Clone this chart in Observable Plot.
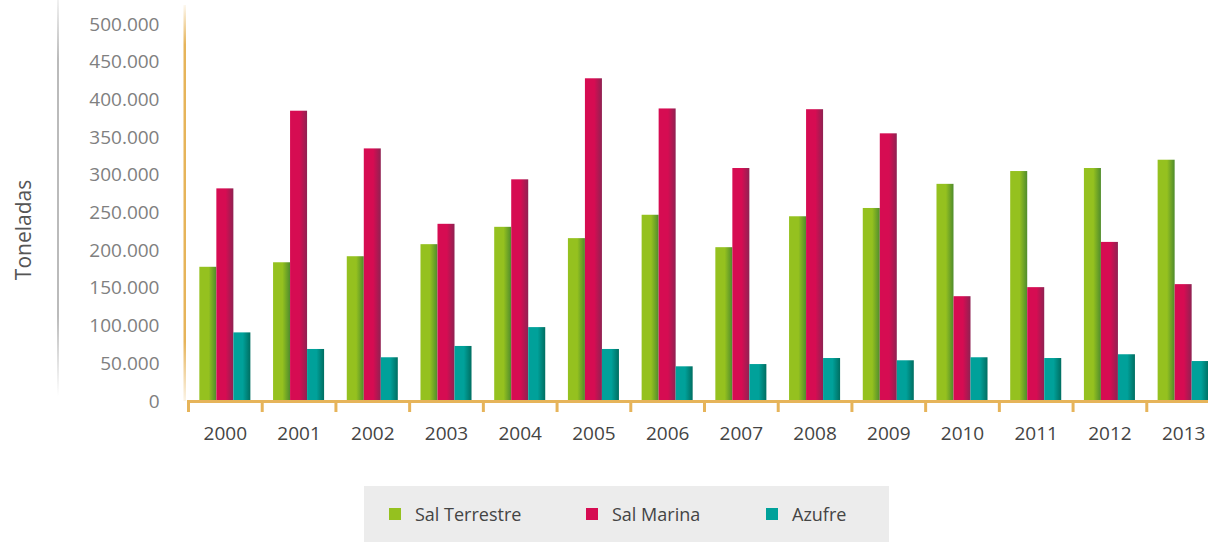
<!DOCTYPE html>
<html>
<head>
<meta charset="utf-8">
<script src="https://cdn.jsdelivr.net/npm/d3@7"></script>
<script src="https://cdn.jsdelivr.net/npm/@observablehq/plot@0.6"></script>
<style>
  html, body { margin: 0; padding: 0; background: #fff; overflow: hidden; }
  #chart { position: relative; width: 1208px; height: 542px; font-family: 'Open Sans', sans-serif; }
  #chart svg { max-width: none !important; }
  #chart svg [aria-label="y-axis tick label"] { fill: #808080; }
  #chart svg [aria-label="fx-axis tick label"] { fill: #444; }
  .legend { position: absolute; left: 364px; top: 486px; width: 525px; height: 60px; background: #ececec; }
  .item { position: absolute; top: 17px; height: 22px; display: flex; align-items: center; font-size: 18px; color: #444; }
  .sw { width: 12px; height: 12px; margin-right: 14px; }
</style>
</head>
<body>
<div id="chart"></div>
<script>
const years = ["2000","2001","2002","2003","2004","2005","2006","2007","2008","2009","2010","2011","2012","2013"];
const seriesNames = ["Sal Terrestre", "Sal Marina", "Azufre"];
const salTerrestre = [178000,184000,192000,208000,231000,216000,247000,204000,245000,256000,288000,305000,309000,320000];
const salMarina   = [282000,385000,335000,235000,294000,428000,388000,309000,387000,355000,139000,151000,211000,155000];
const azufre      = [91000,69000,58000,73000,98000,69000,46000,49000,57000,54000,58000,57000,62000,53000];
const yTicks = [0,50000,100000,150000,200000,250000,300000,350000,400000,450000,500000];
const seriesColors = ["#95c11f", "#d60c52", "#00a19a"];
const seriesDark = ["#4f8c2c", "#8f2252", "#006e61"];

const values = [salTerrestre, salMarina, azufre];
const data = years.flatMap((yr, i) => seriesNames.map((s, k) => ({year: yr, series: s, value: values[k][i]})));

const fmt = d3.formatLocale({decimal: ",", thousands: ".", grouping: [3], currency: ["", ""]}).format(",");

const plot = Plot.plot({
  width: 1220, height: 460,
  marginLeft: 188, marginRight: 0, marginTop: 24, marginBottom: 50,
  style: {fontFamily: "'Open Sans', sans-serif", fontSize: "19px", color: "#444", background: "transparent", overflow: "visible", maxWidth: "none"},
  fx: {domain: years, paddingInner: 0, paddingOuter: 0, round: false, axis: "bottom", label: null, tickSize: 0, tickPadding: 16},
  x: {domain: seriesNames, paddingInner: 0, paddingOuter: 0.667, round: false, axis: null},
  y: {domain: [0, 500000], insetBottom: 9, ticks: yTicks, tickFormat: fmt, tickSize: 0, tickPadding: 29, label: null},
  color: {domain: seriesNames, range: seriesNames.map((_, i) => `url(#grad${i})`)},
  marks: [
    Plot.barY(data, {fx: "year", x: "series", y: "value", fill: "series"}),
    Plot.ruleY([0], {stroke: "#e6b45a", strokeWidth: 3}),
    Plot.frame({anchor: "left", stroke: "#e6b45a", strokeWidth: 3, insetTop: 377})
  ]
});

document.getElementById("chart").appendChild(plot);

const svg = d3.select(plot.tagName.toLowerCase() === "svg" ? plot : plot.querySelector("svg"));
const defs = svg.insert("defs", ":first-child");
seriesColors.forEach((c, i) => {
  const g = defs.append("linearGradient").attr("id", `grad${i}`).attr("x1", 0).attr("x2", 1).attr("y1", 0).attr("y2", 0);
  g.append("stop").attr("offset", "0%").attr("stop-color", c);
  g.append("stop").attr("offset", "55%").attr("stop-color", c);
  g.append("stop").attr("offset", "100%").attr("stop-color", seriesDark[i]);
});
const go = defs.append("linearGradient").attr("id", "vOrange").attr("x1", 0).attr("x2", 0).attr("y1", 0).attr("y2", 1);
go.append("stop").attr("offset", "0%").attr("stop-color", "#e6b45a").attr("stop-opacity", 0.1);
go.append("stop").attr("offset", "10%").attr("stop-color", "#e6b45a").attr("stop-opacity", 1);
go.append("stop").attr("offset", "85%").attr("stop-color", "#e6b45a").attr("stop-opacity", 1);
go.append("stop").attr("offset", "100%").attr("stop-color", "#e6b45a").attr("stop-opacity", 0.15);
const gg = defs.append("linearGradient").attr("id", "vGray").attr("x1", 0).attr("x2", 0).attr("y1", 0).attr("y2", 1);
gg.append("stop").attr("offset", "0%").attr("stop-color", "#bbb").attr("stop-opacity", 0.2);
gg.append("stop").attr("offset", "15%").attr("stop-color", "#bbb").attr("stop-opacity", 1);
gg.append("stop").attr("offset", "80%").attr("stop-color", "#bbb").attr("stop-opacity", 1);
gg.append("stop").attr("offset", "100%").attr("stop-color", "#bbb").attr("stop-opacity", 0);

const ys = plot.scale("y");
const y0 = ys.apply(0);
svg.append("rect").attr("x", 57).attr("y", 0).attr("width", 2).attr("height", y0 - 5).attr("fill", "url(#vGray)");
svg.append("rect").attr("x", 183.5).attr("y", 5).attr("width", 2.5).attr("height", y0 - 5).attr("fill", "url(#vOrange)");
svg.append("text").attr("transform", `translate(25,230) rotate(-90)`)
  .attr("text-anchor", "middle").attr("dominant-baseline", "middle")
  .attr("fill", "#555").attr("font-size", 21).attr("font-family", "'Open Sans', sans-serif").text("Toneladas");

const legend = d3.select("#chart").append("div").attr("class", "legend");
const offs = [25, 222, 402];
seriesNames.forEach((s, i) => {
  const it = legend.append("div").attr("class", "item").style("left", offs[i] + "px");
  it.append("div").attr("class", "sw").style("background", seriesColors[i]);
  it.append("span").text(s);
});
</script>
</body>
</html>
